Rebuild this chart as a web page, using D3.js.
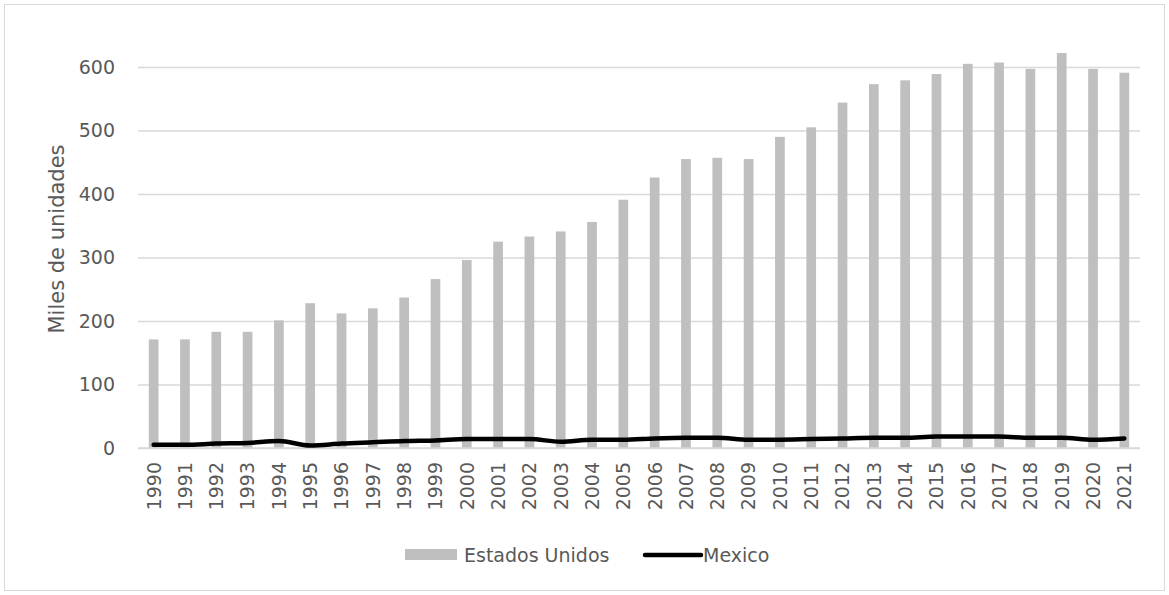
<!DOCTYPE html>
<html>
<head>
<meta charset="utf-8">
<script src="https://cdn.jsdelivr.net/npm/d3@7"></script>
<style>
  html, body { margin: 0; padding: 0; background: #ffffff; }
  svg { display: block; }
  text { font-family: "DejaVu Sans", "Open Sans", sans-serif; fill: #595959; }
</style>
</head>
<body>
<svg id="chart" width="1169" height="595"></svg>
<script>
const years = ["1990","1991","1992","1993","1994","1995","1996","1997","1998","1999",
  "2000","2001","2002","2003","2004","2005","2006","2007","2008","2009",
  "2010","2011","2012","2013","2014","2015","2016","2017","2018","2019","2020","2021"];
const estadosUnidos = [171,171,183,183,201,228,212,220,237,266,
  296,325,333,341,356,391,426,455,457,455,
  490,505,544,573,579,589,605,607,597,622,597,591];
const mexico = [5,5,7,8,11,4,7,9,11,12,
  14,14,14,10,13,13,15,16,16,13,
  13,14,15,16,16,18,18,18,16,16,13,15];
const yTicks = [0,100,200,300,400,500,600];
const seriesNames = ["Estados Unidos","Mexico"];
const yTitle = "Miles de unidades";

const svg = d3.select("#chart");
const W = 1169, H = 595;
const m = {left: 138, right: 29, top: 67, bottom: 147};
const plotW = W - m.left - m.right;
const FONT = "'DejaVu Sans', sans-serif";

// outer border
svg.append("rect").attr("x",4.5).attr("y",4.5).attr("width",W-9).attr("height",H-9)
  .attr("fill","#fff").attr("stroke","#d9d9d9").attr("stroke-width",1);

const x = d3.scaleBand().domain(years).range([m.left, m.left + plotW]).paddingInner(0.69).paddingOuter(0.345);
const y = d3.scaleLinear().domain([0,600]).range([448, 67]);

// gridlines + y tick labels
const yAxis = d3.axisLeft(y).tickValues(yTicks).tickSize(-plotW).tickPadding(23).tickFormat(d3.format("d"));
const gy = svg.append("g").attr("transform",`translate(${m.left},0)`).call(yAxis);
gy.select(".domain").remove();
gy.selectAll(".tick line").attr("stroke","#d9d9d9").attr("stroke-width",1.3);
gy.selectAll(".tick text").attr("font-size",19).attr("fill","#595959")
  .style("font-family",FONT);

// bars
svg.append("g").selectAll("rect").data(years).join("rect")
  .attr("x", d => x(d))
  .attr("width", x.bandwidth())
  .attr("y", (d,i) => y(estadosUnidos[i]))
  .attr("height", (d,i) => y(0) - y(estadosUnidos[i]))
  .attr("fill","#bfbfbf");

// x axis
const xAxis = d3.axisBottom(x).tickSize(0).tickPadding(0);
const gx = svg.append("g").attr("transform",`translate(0,${y(0)})`).call(xAxis);
gx.select(".domain").attr("stroke","#d9d9d9").attr("stroke-width",1.5)
  .attr("d", `M${m.left},0H${m.left+plotW}`);
gx.selectAll(".tick text")
  .attr("font-size",19).attr("fill","#595959")
  .style("font-family",FONT)
  .attr("transform","rotate(-90)")
  .attr("text-anchor","end")
  .attr("x",-14).attr("y",0).attr("dy","0.36em");

// Mexico line
const line = d3.line()
  .x((d,i) => x(years[i]) + x.bandwidth()/2)
  .y(d => y(d))
  .curve(d3.curveMonotoneX);
svg.append("path").datum(mexico).attr("d", line)
  .attr("fill","none").attr("stroke","#000").attr("stroke-width",4.5)
  .attr("stroke-linecap","round").attr("stroke-linejoin","round");

// y title
svg.append("text").attr("transform","translate(64,239) rotate(-90)")
  .attr("text-anchor","middle").attr("font-size",21).text(yTitle);

// legend
const lg = svg.append("g");
lg.append("rect").attr("x",405).attr("y",549).attr("width",52).attr("height",11).attr("fill","#bfbfbf");
lg.append("text").attr("x",464).attr("y",562).attr("font-size",19).text(seriesNames[0]);
lg.append("line").attr("x1",645).attr("x2",701).attr("y1",555).attr("y2",555)
  .attr("stroke","#000").attr("stroke-width",4.5).attr("stroke-linecap","round");
lg.append("text").attr("x",703).attr("y",562).attr("font-size",19).text(seriesNames[1]);
</script>
</body>
</html>
